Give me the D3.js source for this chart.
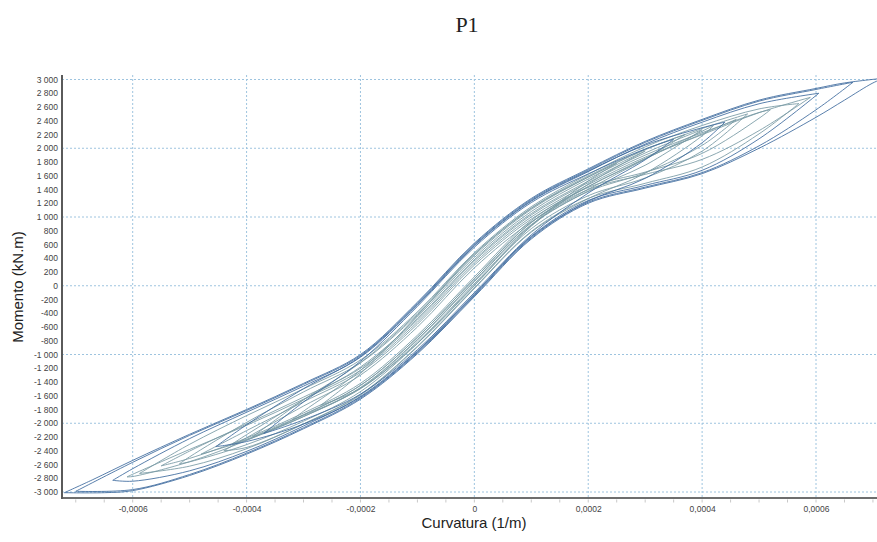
<!DOCTYPE html>
<html lang="pt">
<head>
<meta charset="UTF-8">
<title>P1</title>
<script src="https://d3js.org/d3.v7.min.js"></script>
<style>
  body { margin: 0; background: #fff; }
  text { font-family: Arial, "Liberation Sans", sans-serif; }
  .grid line { stroke: #9ec4df; stroke-width: 1; stroke-dasharray: 2,2; }
  .loop { fill: none; stroke-width: 1; stroke-opacity: 0.85; }
</style>
</head>
<body>
<svg width="877" height="542"></svg>
<script>
// ciclos momento-curvatura: [curvatura (1/m), momento (kN.m)]
// cada ciclo: ponta negativa -> ramo superior -> ponta positiva -> ramo inferior -> ponta negativa
const ciclo01 = [[-0.00072,-3010],[-0.00067,-2820],[-0.0006,-2540],[-0.0005,-2160],[-0.0004,-1800],[-0.0003,-1420],[-0.0002,-1000],[-0.0001,-240],[0,620],[0.0001,1270],[0.0002,1700],[0.0003,2100],[0.0004,2420],[0.0005,2700],[0.0006,2870],[0.00065,2950],[0.00072,3020],
  [0.0007,2950],[0.00065,2700],[0.0006,2450],[0.0005,2000],[0.0004,1630],[0.0003,1420],[0.0002,1200],[0.0001,680],[0,-160],[-0.0001,-990],[-0.0002,-1650],[-0.0003,-2080],[-0.0004,-2450],[-0.0005,-2760],[-0.0006,-2980],[-0.00065,-3010],[-0.00072,-3010]];
const ciclo02 = [[-0.0007,-2990],[-0.0006,-2568],[-0.0005,-2176],[-0.0004,-1815],[-0.0003,-1435],[-0.0002,-1015],[-0.0001,-255],[0,605],[0.0001,1255],[0.0002,1685],[0.0003,2085],[0.0004,2405],[0.0005,2685],[0.0006,2855],[0.000665,2960],
  [0.0006,2559],[0.0005,2035],[0.0004,1645],[0.0003,1435],[0.0002,1215],[0.0001,695],[0,-145],[-0.0001,-975],[-0.0002,-1635],[-0.0003,-2065],[-0.0004,-2435],[-0.0005,-2745],[-0.0006,-2965],[-0.0007,-2990]];
const ciclo03 = [[-0.000635,-2830],[-0.0006,-2661],[-0.0005,-2223],[-0.0004,-1840],[-0.0003,-1460],[-0.0002,-1040],[-0.0001,-280],[0,580],[0.0001,1230],[0.0002,1660],[0.0003,2060],[0.0004,2379],[0.0005,2647],[0.000605,2800],
  [0.0005,2137],[0.0004,1679],[0.0003,1460],[0.0002,1240],[0.0001,720],[0,-120],[-0.0001,-950],[-0.0002,-1610],[-0.0003,-2040],[-0.0004,-2409],[-0.0005,-2692],[-0.0006,-2843],[-0.000635,-2830]];
const ciclo04 = [[-0.000588,-2730],[-0.0005,-2306],[-0.0004,-1889],[-0.0003,-1500],[-0.0002,-1080],[-0.0001,-380],[0,480],[0.0001,1150],[0.0002,1620],[0.0003,2020],[0.0004,2331],[0.0005,2572],[0.00057,2650],
  [0.0005,2209],[0.0004,1727],[0.0003,1490],[0.0002,1270],[0.0001,790],[0,-30],[-0.0001,-880],[-0.0002,-1580],[-0.0003,-2010],[-0.0004,-2371],[-0.0005,-2624],[-0.000588,-2730]];
const ciclo05 = [[-0.000518,-2590],[-0.0005,-2488],[-0.0004,-1988],[-0.0003,-1544],[-0.0002,-1120],[-0.0001,-420],[0,440],[0.0001,1110],[0.0002,1580],[0.0003,1978],[0.0004,2287],[0.00048,2500],
  [0.0004,1958],[0.0003,1568],[0.0002,1310],[0.0001,830],[0,10],[-0.0001,-840],[-0.0002,-1540],[-0.0003,-1970],[-0.0004,-2311],[-0.0005,-2561],[-0.000518,-2590]];
const ciclo06 = [[-0.000454,-2340],[-0.0004,-2023],[-0.0003,-1497],[-0.0002,-1030],[-0.0001,-270],[0,590],[0.0001,1240],[0.0002,1670],[0.0003,2045],[0.0004,2298],[0.00044,2380],
  [0.0004,2080],[0.0003,1562],[0.0002,1230],[0.0001,710],[0,-130],[-0.0001,-960],[-0.0002,-1620],[-0.0003,-2012],[-0.0004,-2266],[-0.000454,-2340]];
const ciclo07 = [[-0.000425,-2300],[-0.0004,-2166],[-0.0003,-1658],[-0.0002,-1182],[-0.0001,-480],[0,380],[0.0001,1050],[0.0002,1521],[0.0003,1931],[0.0004,2270],
  [0.0003,1753],[0.0002,1379],[0.0001,880],[0,60],[-0.0001,-790],[-0.0002,-1490],[-0.0003,-1902],[-0.0004,-2233],[-0.000425,-2300]];
const ciclo08 = [[-0.00037,-2150],[-0.0003,-1690],[-0.0002,-1100],[-0.0001,-300],[0,560],[0.0001,1210],[0.0002,1627],[0.0003,1989],[0.00035,2130],
  [0.0003,1832],[0.0002,1348],[0.0001,740],[0,-100],[-0.0001,-930],[-0.0002,-1577],[-0.0003,-1951],[-0.00037,-2150]];
const ciclo09 = [[-0.00032,-1950],[-0.0003,-1825],[-0.0002,-1231],[-0.0001,-454],[0,410],[0.0001,1080],[0.0002,1554],[0.0003,1960],
  [0.0002,1478],[0.0001,866],[0,30],[-0.0001,-820],[-0.0002,-1499],[-0.0003,-1885],[-0.00032,-1950]];
const ciclo10 = [[-0.00027,-1740],[-0.0002,-1277],[-0.0001,-434],[0,460],[0.0001,1125],[0.0002,1581],[0.00025,1780],
  [0.0002,1524],[0.0001,876],[0,0],[-0.0001,-839],[-0.0002,-1491],[-0.00027,-1740]];
const ciclo11 = [[-0.00048,-2450],[-0.0004,-2107],[-0.0003,-1688],[-0.0002,-1260],[-0.0001,-560],[0,300],[0.0001,970],[0.0002,1440],[0.0003,1851],[0.0004,2209],[0.00046,2420],
  [0.0004,2042],[0.0003,1644],[0.0002,1370],[0.0001,890],[0,70],[-0.0001,-780],[-0.0002,-1480],[-0.0003,-1904],[-0.0004,-2243],[-0.00048,-2450]];
const ciclo12 = [[-0.00055,-2620],[-0.0005,-2405],[-0.0004,-2011],[-0.0003,-1620],[-0.0002,-1200],[-0.0001,-500],[0,360],[0.0001,1030],[0.0002,1500],[0.0003,1900],[0.0004,2226],[0.0005,2520],[0.00052,2560],
  [0.0005,2436],[0.0004,1925],[0.0003,1653],[0.0002,1430],[0.0001,950],[0,130],[-0.0001,-720],[-0.0002,-1420],[-0.0003,-1850],[-0.0004,-2215],[-0.0005,-2511],[-0.00055,-2620]];
const ciclo13 = [[-0.00039,-2200],[-0.0003,-1659],[-0.0002,-1120],[-0.0001,-400],[0,460],[0.0001,1130],[0.0002,1597],[0.0003,1984],[0.00037,2200],
  [0.0003,1847],[0.0002,1444],[0.0001,920],[0,100],[-0.0001,-750],[-0.0002,-1449],[-0.0003,-1874],[-0.00039,-2200]];
const ciclo14 = [[-0.00044,-2400],[-0.0004,-2211],[-0.0003,-1750],[-0.0002,-1300],[-0.0001,-600],[0,260],[0.0001,930],[0.0002,1402],[0.0003,1841],[0.0004,2248],[0.00042,2330],
  [0.0004,2180],[0.0003,1636],[0.0002,1268],[0.0001,780],[0,-40],[-0.0001,-890],[-0.0002,-1590],[-0.0003,-2010],[-0.0004,-2352],[-0.00044,-2400]];
const ciclo15 = [[-0.00061,-2780],[-0.0006,-2742],[-0.0005,-2381],[-0.0004,-2030],[-0.0003,-1650],[-0.0002,-1230],[-0.0001,-530],[0,330],[0.0001,1000],[0.0002,1470],[0.0003,1870],[0.0004,2197],[0.0005,2518],[0.00059,2740],
  [0.0005,2256],[0.0004,1838],[0.0003,1620],[0.0002,1400],[0.0001,920],[0,100],[-0.0001,-750],[-0.0002,-1450],[-0.0003,-1880],[-0.0004,-2250],[-0.0005,-2559],[-0.0006,-2775],[-0.00061,-2780]];

const ciclosEscuros = [ciclo01, ciclo02, ciclo03, ciclo06, ciclo08];
const ciclosClaros = [ciclo04, ciclo05, ciclo07, ciclo09, ciclo10, ciclo11, ciclo12, ciclo13, ciclo14, ciclo15];

const xTicks = [-0.0006, -0.0004, -0.0002, 0, 0.0002, 0.0004, 0.0006];
const xMinor = d3.range(-14, 15).map(i => i * 0.00005);
const yTicks = d3.range(-3000, 3001, 200);
const yGrid = [-3000, -2000, -1000, 0, 1000, 2000, 3000];

const svg = d3.select("svg");
const mLeft = 62, mRight = 877, mTop = 75, mBottom = 498;

const x = d3.scaleLinear().domain([-0.0006, 0.0006]).range([132.7, 816]);
const y = d3.scaleLinear().domain([-3000, 3000]).range([492, 79.5]);

const pt = d3.formatLocale({ decimal: ",", thousands: " ", grouping: [3], currency: ["", ""], minus: "-" });
const fmtX = pt.format("~f");
const fmtY = pt.format(",");

// grade
const grid = svg.append("g").attr("class", "grid");
grid.selectAll(".v").data(xTicks).enter().append("line")
  .attr("x1", d => x(d)).attr("x2", d => x(d)).attr("y1", mTop).attr("y2", mBottom);
grid.selectAll(".h").data(yGrid).enter().append("line")
  .attr("x1", mLeft).attr("x2", mRight).attr("y1", d => y(d)).attr("y2", d => y(d));

// ciclos
svg.append("clipPath").attr("id", "clip").append("rect")
  .attr("x", mLeft).attr("y", mTop).attr("width", mRight - mLeft).attr("height", mBottom - mTop);
const line = d3.line().x(d => x(d[0])).y(d => y(d[1])).curve(d3.curveCatmullRom.alpha(0.5));
const plot = svg.append("g").attr("clip-path", "url(#clip)");
function drawCycle(c, color) {
  const i = d3.maxIndex(c, d => d[0]);
  [c.slice(0, i + 1), c.slice(i)].forEach(branch => {
    plot.append("path").attr("class", "loop").attr("stroke", color).attr("d", line(branch));
  });
}
ciclosClaros.forEach(c => drawCycle(c, "#7799a3"));
ciclosEscuros.forEach(c => drawCycle(c, "#3d6a9e"));

// eixos
const yAxis = svg.append("g").attr("transform", `translate(${mLeft},0)`)
  .call(d3.axisLeft(y).tickValues(yTicks).tickFormat(fmtY).tickSize(0).tickPadding(4));
yAxis.select(".domain").remove();
yAxis.selectAll("text").attr("font-size", "8.5px").attr("fill", "#444").style("font-family", "Arial, sans-serif");

const xAxis = svg.append("g").attr("transform", `translate(0,${mBottom})`)
  .call(d3.axisBottom(x).tickValues(xTicks).tickFormat(fmtX).tickSize(0).tickPadding(7.5));
xAxis.select(".domain").remove();
xAxis.selectAll("text").attr("font-size", "8.5px").attr("fill", "#444").style("font-family", "Arial, sans-serif");

svg.append("g").selectAll("line").data(xMinor).enter().append("line")
  .attr("x1", d => x(d)).attr("x2", d => x(d)).attr("y1", mBottom + 1.5).attr("y2", mBottom + 4.5)
  .attr("stroke", "#c8c8c8");

svg.append("line").attr("x1", mLeft).attr("x2", mRight).attr("y1", mBottom).attr("y2", mBottom)
  .attr("stroke", "#6e6e6e").attr("stroke-width", 2);
svg.append("line").attr("x1", mLeft).attr("x2", mLeft).attr("y1", mTop).attr("y2", mBottom + 1)
  .attr("stroke", "#5a5a5a").attr("stroke-width", 2);

// títulos
svg.append("text").attr("x", 467).attr("y", 32).attr("text-anchor", "middle")
  .style("font-family", "'Liberation Serif', 'Times New Roman', serif").attr("font-size", "22px").attr("fill", "#222")
  .text("P1");
svg.append("text").attr("x", 474).attr("y", 528).attr("text-anchor", "middle")
  .attr("font-size", "15px").attr("fill", "#222").text("Curvatura (1/m)");
svg.append("text").attr("transform", "translate(22.5,287) rotate(-90)").attr("text-anchor", "middle")
  .attr("font-size", "15px").attr("fill", "#222").text("Momento (kN.m)");
</script>
</body>
</html>
